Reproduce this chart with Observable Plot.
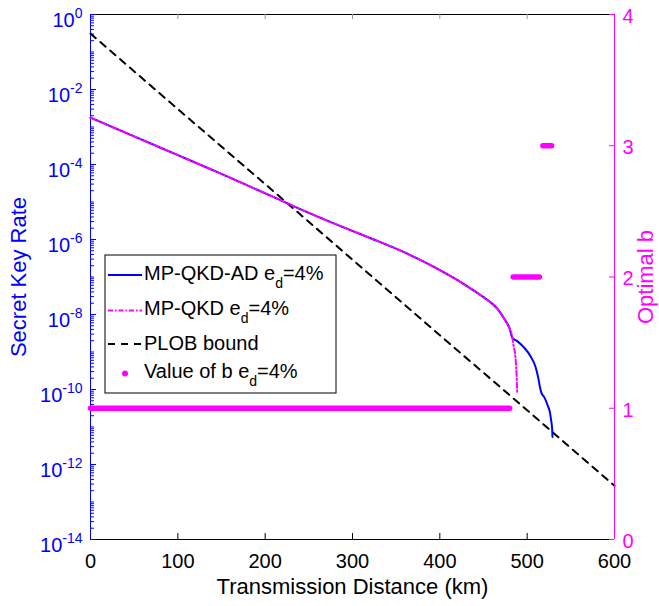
<!DOCTYPE html>
<html><head><meta charset="utf-8">
<script src="https://cdn.jsdelivr.net/npm/d3@7"></script>
<script src="https://cdn.jsdelivr.net/npm/@observablehq/plot@0.6"></script>
<style>
body{margin:0;background:#fff;}
#chart{position:relative;width:659px;height:606px;}
#chart svg{position:absolute;left:0;top:0;}
</style></head><body><div id="chart"></div>
<script>
// ---- data ----
const distAD = [0, 50, 100, 150, 206, 244, 282, 320, 359, 397, 435, 450, 466, 475, 480, 483, 488.6, 496, 504, 509.6, 512.6, 514.5, 516, 520, 523.6, 526, 527.5, 528.6, 529];
const rateAD = [1.78e-3, 5.6e-4, 1.78e-4, 5.6e-5, 1.48e-5, 5.9e-6, 2.5e-6, 1.1e-6, 4.6e-7, 1.66e-7, 5.0e-8, 2.9e-8, 1.41e-8, 6.9e-9, 4.2e-9, 2.4e-9, 1.95e-9, 1.35e-9, 7.6e-10, 4.0e-10, 2.1e-10, 1.2e-10, 8.5e-11, 6.0e-11, 3.7e-11, 2.5e-11, 1.48e-11, 8.9e-12, 5.4e-12];
const distMP = [0, 50, 100, 150, 206, 244, 282, 320, 359, 397, 435, 450, 466, 475, 480, 483, 484.7, 486.6, 487.8, 488.6];
const rateMP = [1.78e-3, 5.6e-4, 1.78e-4, 5.6e-5, 1.48e-5, 5.9e-6, 2.5e-6, 1.1e-6, 4.6e-7, 1.66e-7, 5.0e-8, 2.9e-8, 1.41e-8, 6.9e-9, 4.2e-9, 2.4e-9, 1.35e-9, 7.2e-10, 2.6e-10, 8.5e-11];
const distPLOB = [0, 100, 200, 300, 400, 500, 600];
const ratePLOB = [3.1e-1, 3.0e-3, 3.0e-5, 2.9e-7, 2.8e-9, 2.8e-11, 2.7e-13];
const bStart = [0, 484, 518];
const bEnd = [480, 514, 528];
const bValue = [1, 2, 3];
const xTicks = [0, 100, 200, 300, 400, 500, 600];
const yTicks = [1e-14, 1e-12, 1e-10, 1e-8, 1e-6, 1e-4, 1e-2, 1];
const bTicks = [0, 1, 2, 3, 4];
const legendMain = ["MP-QKD-AD e", "MP-QKD e", "PLOB bound", "Value of b e"];
const legendSub = ["d", "d", "", "d"];
const legendTail = ["=4%", "=4%", "", "=4%"];
const xLabel = "Transmission Distance (km)";
const yLabel = "Secret Key Rate";
const y2Label = "Optimal b";

// ---- layout ----
const font = '"Liberation Sans", Arial, Helvetica, sans-serif';
const blue = "#0000ff", magenta = "#ff00ff";
const W = 659, H = 606, mL = 90, mR = 45, mT = 14, mB = 67;
const innerW = W - mL - mR, innerH = H - mT - mB;
const common = {width: W, height: H, marginLeft: mL, marginRight: mR, marginTop: mT, marginBottom: mB};

const adData = distAD.map((d, i) => ({x: d, y: rateAD[i]}));
const mpData = distMP.map((d, i) => ({x: d, y: rateMP[i]}));
const plobData = distPLOB.map((d, i) => ({x: d, y: ratePLOB[i]}));
const bData = bValue.map((v, i) => ({x1: bStart[i], x2: bEnd[i], b: v}));

const majorY = d3.range(-14, 1, 2).map(e => Math.pow(10, e));
const minorY = [];
for (let e = -14; e < 0; e++) {
  for (let m = 2; m <= 9; m++) minorY.push(m * Math.pow(10, e));
  if (e % 2 !== 0) minorY.push(Math.pow(10, e));
}

const p1 = Plot.plot({
  ...common,
  style: {fontFamily: font, background: "white"},
  x: {domain: [0, 600]},
  y: {type: "log", domain: [1e-14, 1]},
  marks: [
    Plot.ruleY([1], {stroke: "black", strokeWidth: 1}),
    Plot.ruleY([1e-14], {stroke: "black", strokeWidth: 1}),
    Plot.tickX(xTicks, {x: d => d, stroke: "black", insetTop: innerH - 6}),
    Plot.tickX(xTicks, {x: d => d, stroke: "#999", insetBottom: innerH - 5}),
    Plot.tickY(majorY, {y: d => d, stroke: blue, insetRight: innerW - 6}),
    Plot.tickY(minorY, {y: d => d, stroke: blue, insetRight: innerW - 4}),
    Plot.ruleX([0], {stroke: blue, strokeWidth: 1}),
    Plot.axisX(xTicks, {tickSize: 0, tickPadding: 14, fontSize: 20, color: "black", label: null}),
    Plot.axisY(yTicks, {tickSize: 0, tickPadding: 8, fontSize: 20, color: blue, label: null,
      tickFormat: d => String(Math.round(Math.log10(d)))}),
    Plot.line(plobData, {x: "x", y: "y", stroke: "black", strokeWidth: 2, strokeDasharray: "7,6"}),
    Plot.line(adData, {x: "x", y: "y", stroke: blue, strokeWidth: 2, curve: "monotone-x"}),
    Plot.line(mpData, {x: "x", y: "y", stroke: magenta, strokeWidth: 2, strokeDasharray: "5,2.5,1.5,2.5", curve: "monotone-x"}),
    Plot.text([yLabel], {frameAnchor: "left", rotate: -90, dx: -72, fill: blue, fontSize: 22, textAnchor: "middle", lineAnchor: "middle"}),
    Plot.text([xLabel], {frameAnchor: "bottom", dy: 47, fill: "black", fontSize: 22, textAnchor: "middle", lineAnchor: "middle"})
  ]
});

const p2 = Plot.plot({
  ...common,
  style: {fontFamily: font, background: "transparent"},
  x: {domain: [0, 600], axis: null},
  y: {domain: [0, 4]},
  marks: [
    Plot.ruleX([600], {stroke: magenta, strokeWidth: 1}),
    Plot.tickY(bTicks, {y: d => d, stroke: magenta, insetLeft: innerW - 5}),
    Plot.axisY(bTicks, {anchor: "right", tickSize: 0, tickPadding: 8, fontSize: 20, color: magenta, label: null, dy: 2,
      tickFormat: d => String(d)}),
    Plot.link(bData, {x1: "x1", x2: "x2", y1: "b", y2: "b", stroke: magenta, strokeWidth: 5.5, strokeLinecap: "round"}),
    Plot.text([y2Label], {frameAnchor: "right", rotate: -90, dx: 31, fill: magenta, fontSize: 22, textAnchor: "middle", lineAnchor: "middle"})
  ]
});

const chart = document.getElementById("chart");
chart.appendChild(p1);
chart.appendChild(p2);

// superscript exponents on the log axis labels
d3.select(p1).selectAll('g[aria-label="y-axis tick label"] text').each(function () {
  const t = d3.select(this);
  const e = t.text();
  t.text("");
  t.append("tspan").attr("dy", 6.3).text("10");
  t.append("tspan").attr("dy", -9).attr("font-size", 14).text(e);
});

// legend
const lg = d3.select(p2).append("g").attr("font-family", font).attr("font-size", 20)
  .attr("fill", "black").attr("text-anchor", "start");
lg.append("rect").attr("x", 105).attr("y", 255).attr("width", 231).attr("height", 138)
  .attr("fill", "white").attr("stroke", "black").attr("stroke-width", 1);
const lineY = [275, 310.5, 344, 373.5];
const textY = [280, 315, 350, 378];
const styles = [
  {stroke: blue, dash: null},
  {stroke: magenta, dash: "5,2,1.5,2"},
  {stroke: "black", dash: "7,6"}
];
styles.forEach((s, i) => {
  const l = lg.append("line").attr("x1", 108).attr("x2", 142).attr("y1", lineY[i]).attr("y2", lineY[i])
    .attr("stroke", s.stroke).attr("stroke-width", 2);
  if (s.dash) l.attr("stroke-dasharray", s.dash);
});
lg.append("circle").attr("cx", 125).attr("cy", lineY[3]).attr("r", 3).attr("fill", magenta);
legendMain.forEach((m, i) => {
  const t = lg.append("text").attr("x", 144).attr("y", textY[i]);
  t.append("tspan").text(m);
  if (legendSub[i]) {
    t.append("tspan").attr("dy", 8).attr("font-size", 14).text(legendSub[i]);
    t.append("tspan").attr("dy", -8).text(legendTail[i]);
  }
});
</script></body></html>
